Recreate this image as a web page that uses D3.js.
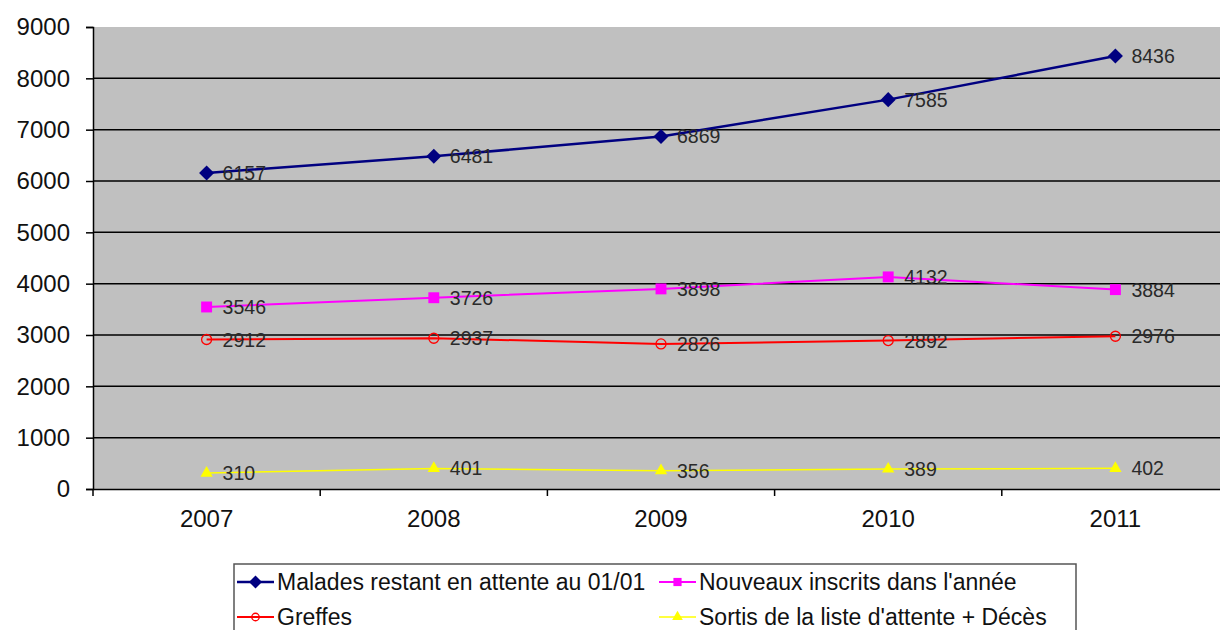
<!DOCTYPE html>
<html>
<head>
<meta charset="utf-8">
<script src="https://cdn.jsdelivr.net/npm/d3@7"></script>
<style>
  body { margin: 0; background: #fff; }
  svg { display: block; font-family: "Liberation Sans", Arial, sans-serif; }
</style>
</head>
<body>
<script>
// years on the category axis
var years = ["2007", "2008", "2009", "2010", "2011"];

// series values
var malades = [6157, 6481, 6869, 7585, 8436];
var nouveaux = [3546, 3726, 3898, 4132, 3884];
var greffes = [2912, 2937, 2826, 2892, 2976];
var sortis = [310, 401, 356, 389, 402];

var yTicks = [0, 1000, 2000, 3000, 4000, 5000, 6000, 7000, 8000, 9000];

var seriesNames = [
    "Malades restant en attente au 01/01",
    "Nouveaux inscrits dans l'année",
    "Greffes",
    "Sortis de la liste d'attente + Décès"
];

var series = [
    { name: seriesNames[0], values: malades, color: "#000080", width: 2.5, marker: "diamond" },
    { name: seriesNames[1], values: nouveaux, color: "#ff00ff", width: 2, marker: "square" },
    { name: seriesNames[2], values: greffes, color: "#ff0000", width: 2, marker: "circle" },
    { name: seriesNames[3], values: sortis, color: "#ffff00", width: 1.5, marker: "triangle" }
];

var width = 1220, height = 630;
var plot = { left: 93, right: 1229, top: 27, bottom: 489 };

var svg = d3.select("body").append("svg")
    .attr("width", width)
    .attr("height", height);

// scales
var x = d3.scaleBand().domain(years).range([plot.left, plot.right]);
var y = d3.scaleLinear().domain([0, 9000]).range([plot.bottom, plot.top]);
var cx = function(i) { return x(years[i]) + x.bandwidth() / 2; };

// grey plot area
svg.append("rect")
    .attr("x", plot.left)
    .attr("y", y(9000))
    .attr("width", plot.right - plot.left)
    .attr("height", y(0) - y(9000))
    .attr("fill", "#c0c0c0");

// gridlines
svg.selectAll("line.grid")
    .data(yTicks.filter(function(d) { return d > 0 && d < 9000; }))
    .enter().append("line")
    .attr("class", "grid")
    .attr("x1", plot.left).attr("x2", plot.right)
    .attr("y1", function(d) { return y(d); })
    .attr("y2", function(d) { return y(d); })
    .attr("stroke", "#000")
    .attr("stroke-width", 1.5);

// y axis
var yAxis = svg.append("g")
    .attr("transform", "translate(" + plot.left + ",0)")
    .call(d3.axisLeft(y).tickValues(yTicks).tickFormat(d3.format("d")).tickSize(7).tickPadding(16));
yAxis.select(".domain").attr("stroke", "#000").attr("stroke-width", 1.5);
yAxis.selectAll(".tick line").attr("stroke", "#000").attr("stroke-width", 1.5);
yAxis.selectAll("text")
    .style("font-size", "24px")
    .attr("fill", "#111")
    .attr("font-family", "Liberation Sans, Arial, sans-serif");

// x axis (labels centred, ticks at category boundaries)
var xAxis = svg.append("g")
    .attr("transform", "translate(0," + plot.bottom + ")")
    .call(d3.axisBottom(x).tickSize(0).tickPadding(21));
xAxis.select(".domain").attr("stroke", "#000").attr("stroke-width", 1.5);
xAxis.selectAll("text")
    .style("font-size", "24px")
    .attr("fill", "#111")
    .attr("font-family", "Liberation Sans, Arial, sans-serif");
xAxis.selectAll("line.bound")
    .data(years)
    .enter().append("line")
    .attr("class", "bound")
    .attr("x1", function(d) { return x(d); })
    .attr("x2", function(d) { return x(d); })
    .attr("y1", 0).attr("y2", 7)
    .attr("stroke", "#000")
    .attr("stroke-width", 1.5);

// markers
function drawMarker(g, type, color, size) {
    if (type === "diamond") {
        g.append("path").attr("d", d3.symbol().type(d3.symbolDiamond2).size(size * 12)())
            .attr("fill", color);
    } else if (type === "square") {
        g.append("rect").attr("x", -size / 2.2).attr("y", -size / 2.2)
            .attr("width", size / 1.1).attr("height", size / 1.1)
            .attr("fill", color);
    } else if (type === "circle") {
        g.append("circle").attr("r", size / 2.4).attr("fill", "none")
            .attr("stroke", color).attr("stroke-width", 1.3);
    } else if (type === "triangle") {
        g.append("path").attr("d", d3.symbol().type(d3.symbolTriangle).size(size * 5.5)())
            .attr("fill", color);
    }
}

var line = d3.line()
    .x(function(d, i) { return cx(i); })
    .y(function(d) { return y(d); });

series.forEach(function(s) {
    svg.append("path")
        .datum(s.values)
        .attr("d", line)
        .attr("fill", "none")
        .attr("stroke", s.color)
        .attr("stroke-width", s.width);

    s.values.forEach(function(v, i) {
        var g = svg.append("g")
            .attr("transform", "translate(" + cx(i) + "," + y(v) + ")");
        drawMarker(g, s.marker, s.color, 12);
    });
});

// data labels
series.forEach(function(s) {
    svg.selectAll(null)
        .data(s.values)
        .enter().append("text")
        .attr("x", function(d, i) { return cx(i) + 16; })
        .attr("y", function(d) { return y(d); })
        .attr("dy", "0.36em")
        .attr("font-size", "19.5px")
        .attr("fill", "#2a2a2a")
        .text(function(d) { return d; });
});

// legend
var legend = svg.append("g");
legend.append("rect")
    .attr("x", 234).attr("y", 564)
    .attr("width", 842).attr("height", 80)
    .attr("fill", "#fff")
    .attr("stroke", "#555")
    .attr("stroke-width", 1.5);

var legendPos = [
    { x: 237, y: 582 },
    { x: 659, y: 582 },
    { x: 237, y: 617 },
    { x: 659, y: 617 }
];

series.forEach(function(s, i) {
    var p = legendPos[i];
    var item = legend.append("g").attr("transform", "translate(" + p.x + "," + p.y + ")");
    item.append("line")
        .attr("x1", 0).attr("x2", 37)
        .attr("y1", 0).attr("y2", 0)
        .attr("stroke", s.color)
        .attr("stroke-width", s.width);
    var m = item.append("g").attr("transform", "translate(18.5,0)");
    drawMarker(m, s.marker, s.color, 9);
    item.append("text")
        .attr("x", 40)
        .attr("dy", "0.36em")
        .attr("font-size", "23px")
        .attr("fill", "#111")
        .text(s.name);
});
</script>
</body>
</html>
